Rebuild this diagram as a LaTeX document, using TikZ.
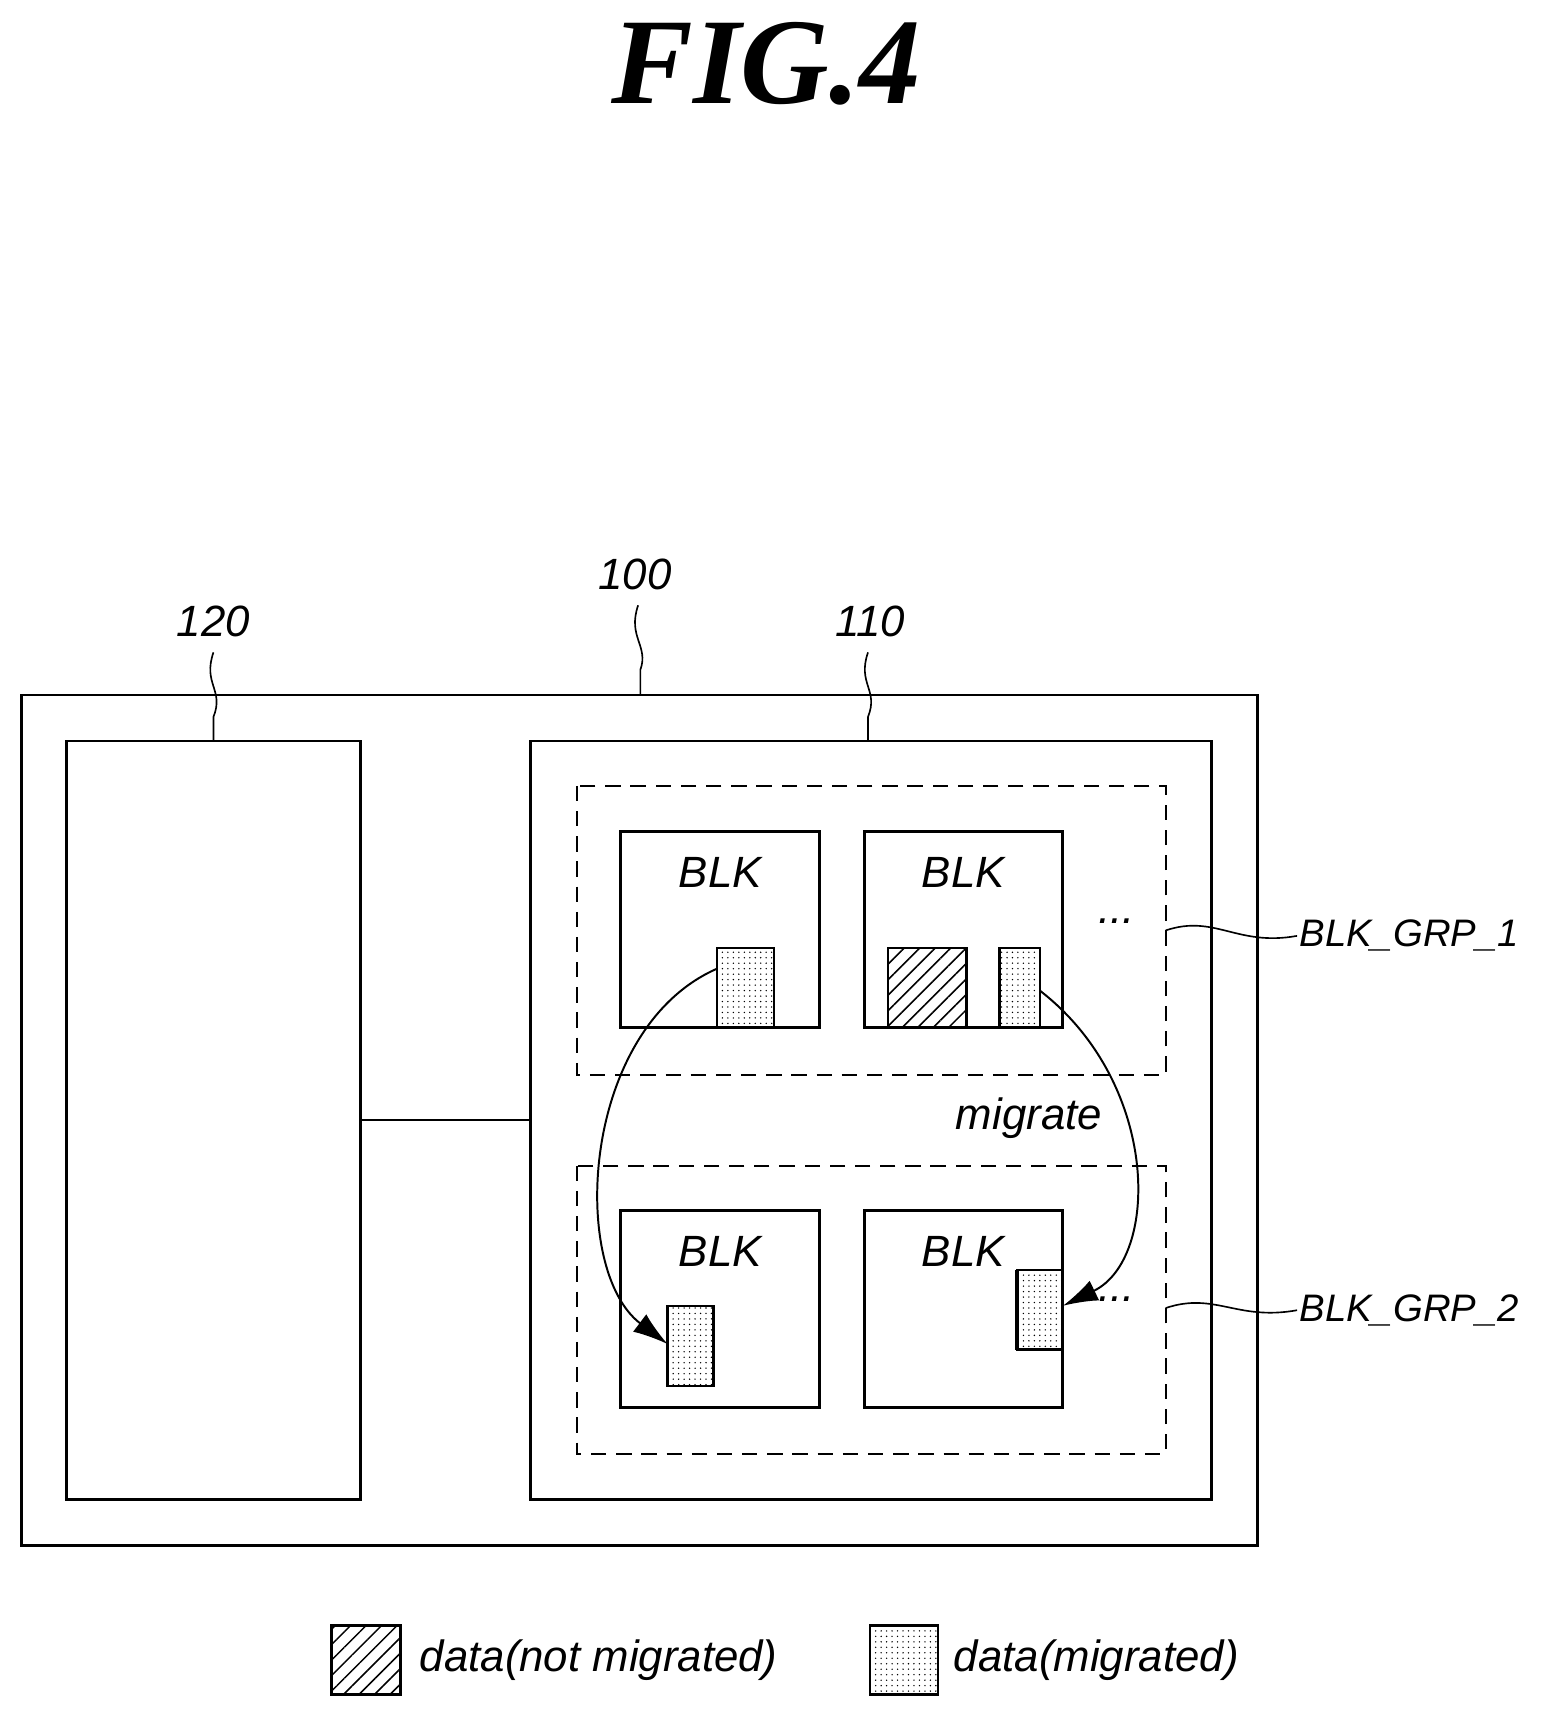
\documentclass[tikz,border=0pt]{standalone}
\usepackage{fontspec}
\setmainfont{Liberation Sans}
\newfontfamily\titlefont{Liberation Serif}
\usetikzlibrary{patterns.meta,arrows.meta}
\begin{document}
\begin{tikzpicture}[x=1pt,y=-1pt,
  box/.style={draw,line width=2.6pt},
  grp/.style={draw,line width=2pt,dash pattern=on 14pt off 9pt},
  dotted data/.style={draw,line width=2.2pt,pattern={Dots[distance=5pt,radius=0.7pt]}},
  hatch data/.style={draw,line width=2.2pt,pattern={Lines[angle=45,distance=10pt,line width=1.4pt]}},
  lbl/.style={font=\fontsize{40}{46}\selectfont\itshape},
  side/.style={font=\fontsize{35}{40}\selectfont\itshape,inner sep=2pt},
  leader/.style={line width=1.5pt},
  mig/.style={line width=1.8pt,-{Latex[length=32pt,width=20pt]}}]
\useasboundingbox (0,0) rectangle (1414,1565);
\node[font=\titlefont\fontsize{112}{116}\selectfont\bfseries\itshape] (title) at (700,58) {FIG.4};
\draw[box] (20,635) rectangle (1149,1412);
\draw[box] (61,677) rectangle (329,1370);
\draw[box] (485,677) rectangle (1107,1370);
\coordinate (c120) at (329,1023); \coordinate (c110) at (485,1023);
\draw[line width=2.2pt] (c120) -- (c110);
\draw[grp] (527,718) rectangle (1065,982);
\draw[grp] (527,1065) rectangle (1065,1328);
\draw[box] (567,760) rectangle (749,939);
\draw[box] (790,760) rectangle (971,939);
\draw[box] (567,1106) rectangle (749,1286);
\draw[box] (790,1106) rectangle (971,1286);
\foreach \x/\y [count=\i] in {658/797,880/797,658/1143,880/1143}
  \node[lbl] (blk\i) at (\x,\y) {BLK};
\draw[dotted data] (655,866) rectangle (707,939);
\draw[hatch data] (811,866) rectangle (883,939);
\draw[dotted data] (913,866) rectangle (950,939);
\draw[dotted data] (610,1193) rectangle (652,1266);
\draw[dotted data] (929,1160) rectangle (971,1233);
\draw[line width=4pt] (929,1160) -- (929,1233);
\coordinate (s1) at (655,885); \coordinate (e1) at (610,1228);
\coordinate (s2) at (950,905); \coordinate (e2) at (971,1193);
\draw[mig] (s1) .. controls (530,940) and (520,1160) .. (e1);
\draw[mig] (s2) .. controls (1060,990) and (1060,1150) .. (e2);
\node[lbl] (migrate) at (940,1022) {migrate};
\node[lbl] (dots1) at (1020,842) {...};
\node[lbl] (dots2) at (1020,1187) {...};
\node[side,anchor=west] (g1) at (1185,855) {BLK\_GRP\_1};
\node[side,anchor=west] (g2) at (1185,1197) {BLK\_GRP\_2};
\draw[leader] (1065,850) .. controls (1110,835) and (1130,865) .. (g1.west);
\draw[leader] (1065,1195) .. controls (1110,1180) and (1130,1207) .. (g2.west);
\node[lbl] (l120) at (195,568) {120};
\node[lbl] (l100) at (580,525) {100};
\node[lbl] (l110) at (795,568) {110};
\draw[leader] (195,596) .. controls (185,625) and (205,630) .. (195,655) -- (195,677);
\draw[leader] (583,553) .. controls (573,582) and (593,590) .. (585,612) -- (585,635);
\draw[leader] (793,596) .. controls (783,625) and (803,630) .. (793,655) -- (793,677);
\draw[hatch data] (303,1485) rectangle (366,1548);
\node[lbl,anchor=west] (t1) at (380,1517) {data(not migrated)};
\draw[dotted data] (795,1485) rectangle (857,1548);
\node[lbl,anchor=west] (t2) at (868,1517) {data(migrated)};
\end{tikzpicture}
\end{document}
